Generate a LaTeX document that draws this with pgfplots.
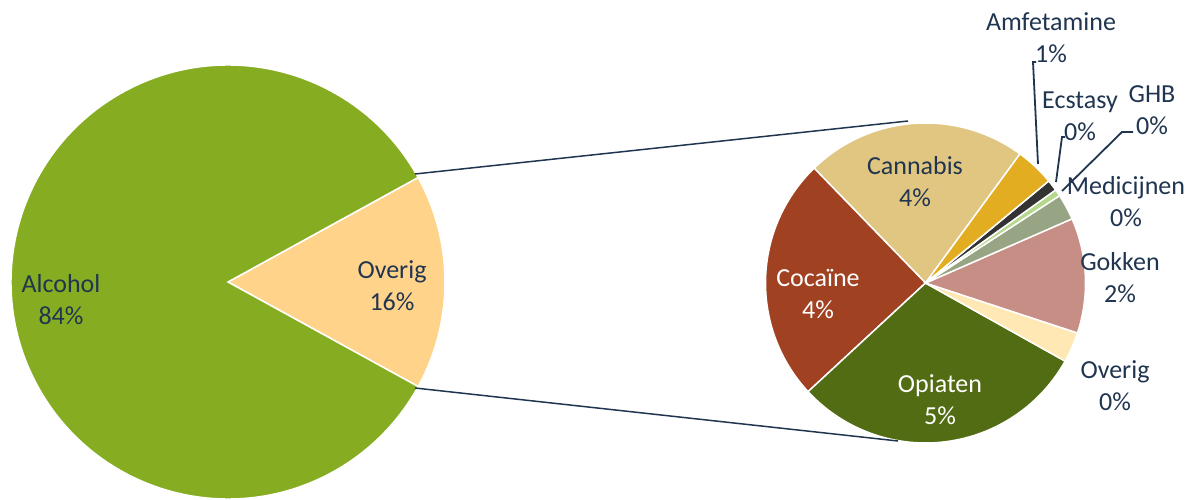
\documentclass[border=0pt]{standalone}
\usepackage{pgfplots}
\pgfplotsset{compat=1.18}
\usepackage{fontspec}
\setmainfont{Carlito}

\definecolor{txt}{HTML}{203550}
\definecolor{alcohol}{HTML}{86AD22}
\definecolor{overigL}{HTML}{FFD38A}
\definecolor{cannabis}{HTML}{E1C682}
\definecolor{cocaine}{HTML}{A04122}
\definecolor{opiaten}{HTML}{526C14}
\definecolor{overigR}{HTML}{FFE8B4}
\definecolor{gokken}{HTML}{C78E86}
\definecolor{medicijnen}{HTML}{97A585}
\definecolor{ghb}{HTML}{B5D88C}
\definecolor{ecstasy}{HTML}{333333}
\definecolor{amfetamine}{HTML}{E3AD22}

\tikzset{lbl/.style={font=\fontsize{13}{16}\selectfont, align=center, text=txt, inner sep=0pt}}

% slice: colour, centre x, centre y, radius, start angle, offset (%), value (%), degrees per %
\newcommand{\slice}[8]{%
  \fill[#1, draw=white, line width=0.75pt]
    (axis cs:#2,#3) -- ++({#5+#6*#8}:#4)
    arc[start angle={#5+#6*#8}, delta angle={#7*#8}, radius=#4] -- cycle;}

\begin{document}
\begin{tikzpicture}
\begin{axis}[
    x=0.5pt, y=0.5pt,
    xmin=0, xmax=1200, ymin=0, ymax=499,
    hide axis, clip=false,
  ]
  \coordinate (bl) at (axis cs:0,0);
  \coordinate (tr) at (axis cs:1200,499);

  % first pie: Alcohol 84, Overig 16 (3.6 degrees per %)
  \slice{overigL}{228}{217}{108.5pt}{-28.8}{0}{16}{3.6}
  \slice{alcohol}{228}{217}{108.5pt}{-28.8}{16}{84}{3.6}

  % second pie: the 16 % of Overig split up (22.5 degrees per %)
  \slice{cannabis}{925.5}{216}{80pt}{53.8}{0}{3.57}{22.5}
  \slice{cocaine}{925.5}{216}{80pt}{53.8}{3.57}{3.94}{22.5}
  \slice{opiaten}{925.5}{216}{80pt}{53.8}{7.51}{4.80}{22.5}
  \slice{overigR}{925.5}{216}{80pt}{53.8}{12.31}{0.49}{22.5}
  \slice{gokken}{925.5}{216}{80pt}{53.8}{12.80}{1.86}{22.5}
  \slice{medicijnen}{925.5}{216}{80pt}{53.8}{14.66}{0.42}{22.5}
  \slice{ghb}{925.5}{216}{80pt}{53.8}{15.08}{0.11}{22.5}
  \slice{ecstasy}{925.5}{216}{80pt}{53.8}{15.19}{0.18}{22.5}
  \slice{amfetamine}{925.5}{216}{80pt}{53.8}{15.37}{0.63}{22.5}

  % connector lines
  \addplot[txt, line width=0.75pt, no marks] coordinates {(415,325) (908,378)};
  \addplot[txt, line width=0.75pt, no marks] coordinates {(415,111) (898,58)};

  % leader lines
  \addplot[txt, line width=0.9pt, no marks] coordinates {(1036,437) (1033,437) (1038,335)};
  \addplot[txt, line width=0.9pt, no marks] coordinates {(1065,362) (1062,362) (1056,317)};
  \addplot[txt, line width=0.9pt, no marks] coordinates {(1133,367) (1122,367) (1062,308)};

  % labels
  \node[lbl] at (axis cs:61,199) {Alcohol\\84\%};
  \node[lbl] at (axis cs:392,213) {Overig\\16\%};
  \node[lbl] at (axis cs:915,317) {Cannabis\\4\%};
  \node[lbl, text=white] at (axis cs:818,205) {Cocaïne\\4\%};
  \node[lbl, text=white] at (axis cs:940,99) {Opiaten\\5\%};
  \node[lbl] at (axis cs:1051,461) {Amfetamine\\1\%};
  \node[lbl] at (axis cs:1080,383) {Ecstasy\\0\%};
  \node[lbl] at (axis cs:1152,389) {GHB\\0\%};
  \node[lbl] at (axis cs:1126,297) {Medicijnen\\0\%};
  \node[lbl] at (axis cs:1120,221) {Gokken\\2\%};
  \node[lbl] at (axis cs:1115,113) {Overig\\0\%};
\end{axis}
\pgfresetboundingbox
\path[use as bounding box] (bl) rectangle (tr);
\end{tikzpicture}
\end{document}
